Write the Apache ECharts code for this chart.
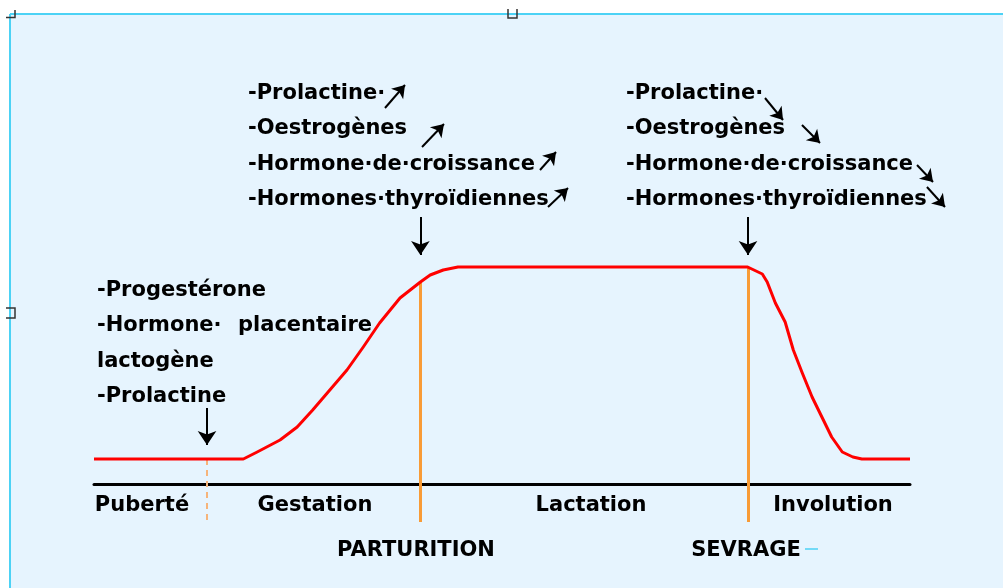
<!DOCTYPE html>
<html><head><meta charset="utf-8">
<script src="https://cdn.jsdelivr.net/npm/echarts@6/dist/echarts.min.js"></script>
<style>html,body{margin:0;padding:0;background:#fff}#c{width:1003px;height:588px}</style>
</head><body><div id="c"></div>
<script>
// ---- data (x: time units 0..100, y: hormone/milk level) ----
const curveX = [0, 18.3, 20, 22.8, 24.9, 26.8, 28.9, 31.0, 33.0, 35.0, 36.3, 37.5, 40, 41.2, 42.8, 44.6, 80.1, 81.9, 82.5, 83.5, 84.7, 85.7, 86.8, 88.0, 89.2, 90.4, 91.7, 93.0, 94.1, 100];
const curveY = [1, 1, 1.28, 1.76, 2.28, 2.96, 3.76, 4.56, 5.48, 6.44, 6.96, 7.44, 8.08, 8.36, 8.56, 8.68, 8.68, 8.4, 8.08, 7.24, 6.48, 5.36, 4.44, 3.48, 2.68, 1.88, 1.28, 1.08, 1, 1];
const eventX = [13.85, 40, 80.15];        // puberté, parturition, sevrage
const eventTop = [1, 8.08, 8.68];
const eventBottom = -1.52;
const pointerTop = [3.04, 10.68, 10.68];
const pointerTip = [1.56, 9.16, 9.16];
const phaseLabels = ['Puberté', 'Gestation', 'Lactation', 'Involution'];
const eventLabels = ['PARTURITION', 'SEVRAGE'];
const hormonesList = ['-Prolactine·', '-Oestrogènes', '-Hormone·de·croissance', '-Hormones·thyroïdiennes'];
const gestationHormones = ['-Progestérone', '-Hormone·', 'lactogène', '-Prolactine'];
const upArrows = [
  [[35.66, 15.04], [38.11, 15.96]],
  [[40.2, 13.48], [42.89, 14.4]],
  [[54.66, 12.56], [56.62, 13.28]],
  [[55.64, 11.08], [58.09, 11.84]]
];
const downArrows = [
  [[82.23, 15.44], [84.44, 14.56]],
  [[86.76, 14.36], [88.97, 13.64]],
  [[100.86, 12.76], [102.82, 12.08]],
  [[102.08, 11.88], [104.29, 11.08]]
];

const ORANGE = '#F89B36';
const FONT = '"DejaVu Sans", sans-serif';
function txt(text, x, y, align, size) {
  return {
    type: 'text', z: 100, silent: true,
    style: {
      text: text, x: x, y: y, fill: '#000',
      font: 'bold ' + (size || 21) + 'px ' + FONT,
      textAlign: align || 'left', align: align || 'left',
      textVerticalAlign: 'middle', verticalAlign: 'middle'
    }
  };
}
const graphics = [
  { type: 'rect', z: -10, silent: true, shape: { x: 10, y: 14, width: 993, height: 574 }, style: { fill: '#E6F4FE' } },
  { type: 'line', z: -9, silent: true, shape: { x1: 10, y1: 14, x2: 1003, y2: 14 }, style: { stroke: '#4CD2F5', lineWidth: 2 } },
  { type: 'line', z: -9, silent: true, shape: { x1: 10, y1: 14, x2: 10, y2: 588 }, style: { stroke: '#4CD2F5', lineWidth: 2 } },
  { type: 'polyline', z: -8, silent: true, shape: { points: [[6, 17.5], [15, 17.5], [15, 10]] }, style: { stroke: '#333', lineWidth: 1.5, fill: null } },
  { type: 'polyline', z: -8, silent: true, shape: { points: [[508, 9], [508, 18], [517, 18], [517, 9]] }, style: { stroke: '#333', lineWidth: 1.5, fill: null } },
  { type: 'polyline', z: -8, silent: true, shape: { points: [[6, 308], [15, 308], [15, 318], [6, 318]] }, style: { stroke: '#333', lineWidth: 1.5, fill: null } },
  { type: 'line', z: 5, silent: true, shape: { x1: 805, y1: 549, x2: 818, y2: 549 }, style: { stroke: '#4CD2F5', lineWidth: 1.5 } }
];
const baseY = [94, 129, 165, 200];
hormonesList.forEach((t, i) => { graphics.push(txt(t, 248, baseY[i])); graphics.push(txt(t, 626, baseY[i])); });
const gY = [291, 326, 362, 397];
gestationHormones.forEach((t, i) => graphics.push(txt(t, 97, gY[i])));
graphics.push(txt('placentaire', 238, gY[1]));
const phaseCx = [142, 315, 591, 833];
phaseLabels.forEach((t, i) => graphics.push(txt(t, phaseCx[i], 506, 'center')));
const evCx = [416, 746];
eventLabels.forEach((t, i) => graphics.push(txt(t, evCx[i], 551, 'center')));

const curve = curveX.map((x, i) => [x, curveY[i]]);
const chart = echarts.init(document.getElementById('c'));
chart.setOption({
  backgroundColor: '#fff',
  animation: false,
  grid: { left: 94, right: 93, top: 34, bottom: 4 },
  xAxis: { type: 'value', min: 0, max: 100, axisLine: { onZero: true, lineStyle: { color: '#000', width: 3 } }, axisTick: { show: false }, axisLabel: { show: false }, splitLine: { show: false } },
  yAxis: { type: 'value', min: -4, max: 18, show: false, splitLine: { show: false } },
  graphic: graphics,
  series: [
    { type: 'lines', coordinateSystem: 'cartesian2d', clip: false, silent: true, z: 1,
      lineStyle: { color: ORANGE, width: 3, opacity: 1 },
      data: [1, 2].map(i => ({ coords: [[eventX[i], eventTop[i]], [eventX[i], eventBottom]] })) },
    { type: 'lines', coordinateSystem: 'cartesian2d', clip: false, silent: true, z: 1,
      lineStyle: { color: '#F6B47A', width: 2, type: [6, 5], opacity: 1 },
      data: [{ coords: [[eventX[0], eventTop[0]], [eventX[0], eventBottom]] }] },
    { type: 'line', data: curve, showSymbol: false, silent: true, z: 3,
      lineStyle: { color: '#FF0000', width: 3, join: 'round' } },
    { type: 'lines', coordinateSystem: 'cartesian2d', clip: false, silent: true, z: 4,
      symbol: ['none', 'arrow'], symbolSize: [11, 14],
      lineStyle: { color: '#000', width: 2, opacity: 1 },
      data: eventX.map((x, i) => ({ coords: [[x, pointerTop[i]], [x, pointerTip[i]]] })) },
    { type: 'lines', coordinateSystem: 'cartesian2d', clip: false, silent: true, z: 4,
      symbol: ['none', 'arrow'], symbolSize: [9, 12],
      lineStyle: { color: '#000', width: 2, opacity: 1 },
      data: upArrows.concat(downArrows).map(c => ({ coords: c })) }
  ]
});
</script></body></html>
